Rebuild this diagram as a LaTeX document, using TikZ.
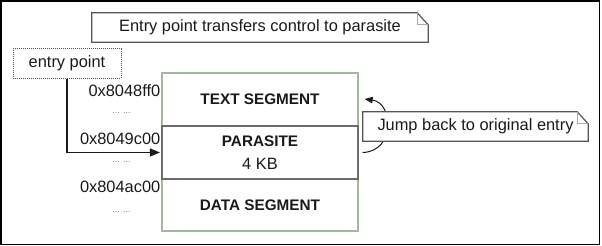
\documentclass[tikz,border=0pt]{standalone}
\usepackage{fontspec}
\setmainfont{Liberation Sans}
\usetikzlibrary{arrows.meta}
\definecolor{ink}{HTML}{1A1A1A}
\definecolor{notegray}{HTML}{555555}
\definecolor{foldgreen}{HTML}{9FB59B}
\definecolor{seggreen}{HTML}{A3B89F}
\definecolor{pargray}{HTML}{6E6A66}
\definecolor{dotgray}{HTML}{7A7A7A}
\begin{document}
\begin{tikzpicture}[x=1pt,y=-1pt,
  every node/.style={text=ink, font=\fontsize{16.4}{19}\selectfont},
  notebox/.style={minimum height=29pt, inner sep=0pt, fill=white},
  notebd/.style={draw=notegray, line width=1.2pt},
  foldbd/.style={draw=foldgreen, line width=1pt},
  segbox/.style={draw=seggreen, line width=1.4pt, minimum width=196pt, inner sep=0pt, fill=white},
  parbox/.style={draw=pargray, line width=1.2pt, minimum width=196pt, inner sep=0pt, fill=white},
  addr/.style={anchor=east, inner sep=0pt},
  gap/.style={inner sep=0pt, text=dotgray, font=\fontsize{9}{10}\selectfont},
  link/.style={draw=ink, line width=1.1pt},
]
\useasboundingbox (0,0) rectangle (602,246);
\draw[line width=1.6pt, draw=black] (0.9,0.9) rectangle (599.6,244.6);

% memory layout
\node[segbox, minimum height=53pt] (txt) at (260,99.5)
  {\fontsize{15.3}{18}\selectfont\bfseries TEXT SEGMENT};
\node[segbox, minimum height=52pt] (dat) at (260,205)
  {\fontsize{15.3}{18}\selectfont\bfseries DATA SEGMENT};
\node[parbox, minimum height=53pt, align=center] (par) at (260,152.5)
  {\fontsize{15.3}{22}\selectfont\bfseries PARASITE\\[4pt]
   \fontsize{16.4}{19}\selectfont\mdseries 4 KB};

% addresses
\node[addr] (a1) at (160.5,91) {0x8048ff0};
\node[gap] (g1) at (121.5,113) {... ...};
\node[addr] (a2) at (160.5,139) {0x8049c00};
\node[gap] (g2) at (121.5,162.5) {... ...};
\node[addr] (a3) at (160.5,187) {0x804ac00};
\node[gap] (g3) at (121.5,212) {... ...};

% entry point
\node[draw=notegray, densely dotted, line width=1pt, minimum width=108pt,
      minimum height=29pt, inner sep=0pt] (ep) at (67,63.5) {entry point};
\draw[link, -{Triangle[length=10pt,width=8pt]}] (ep.south) |- ([xshift=-1.5pt]par.west);

% return jump
\draw[link, line width=1pt, -{Triangle[length=8pt,width=6.5pt]}]
  ([xshift=4pt]par.east) .. controls +(33,-1) and +(29,4) .. ([xshift=6pt,yshift=0.5pt]txt.east);

% callout notes
\node[notebox, minimum width=336pt] (top) at (260,27.5)
  {Entry point transfers control to parasite};
\draw[notebd] (top.south west) -- (top.north west) -- ([xshift=-11pt]top.north east)
  -- ([yshift=-12pt]top.north east) -- (top.south east) -- cycle;
\draw[foldbd] ([xshift=-11pt,yshift=-0.6pt]top.north east) |- ([xshift=-0.6pt,yshift=-12pt]top.north east);

\node[notebox, minimum width=225pt] (jmp) at (475.5,126.5)
  {Jump back to original entry};
\draw[notebd] (jmp.south west) -- (jmp.north west) -- ([xshift=-11pt]jmp.north east)
  -- ([yshift=-12pt]jmp.north east) -- (jmp.south east) -- cycle;
\draw[foldbd] ([xshift=-11pt,yshift=-0.6pt]jmp.north east) |- ([xshift=-0.6pt,yshift=-12pt]jmp.north east);
\end{tikzpicture}
\end{document}
